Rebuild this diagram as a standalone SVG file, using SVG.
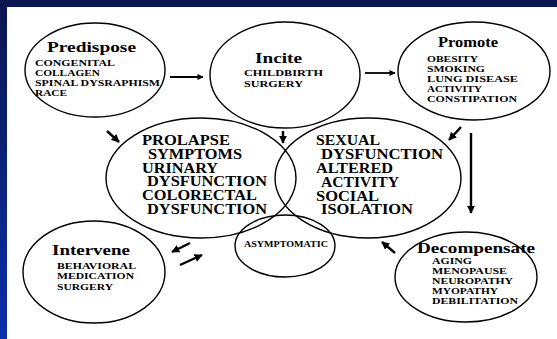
<svg xmlns="http://www.w3.org/2000/svg" width="557" height="339" viewBox="0 0 557 339">
<defs>
<linearGradient id="side" x1="0" y1="0" x2="0" y2="1">
<stop offset="0" stop-color="#0b1650"/>
<stop offset="1" stop-color="#0a2fa8"/>
</linearGradient>
<marker id="ah" viewBox="0 0 10 10" refX="9" refY="5" markerWidth="3.4" markerHeight="3.4" orient="auto" markerUnits="strokeWidth">
<path d="M0,0 L10,5 L0,10 z" fill="#000"/>
</marker>
<style>
.el{fill:none;stroke:#000;stroke-width:1.4}
.t{font-family:"Liberation Serif","Times New Roman",serif;font-weight:bold;fill:#000}
.h{font-size:15.5px}
.s{font-size:9px}
.b{font-size:14px}
.a{stroke:#000;stroke-width:2.4;fill:none;marker-end:url(#ah)}
</style>
</defs>
<rect x="0" y="0" width="557" height="339" fill="#fff"/>
<rect x="0" y="0" width="557" height="7" fill="#0b1650"/>
<rect x="0" y="0" width="7" height="339" fill="url(#side)"/>

<g id="predispose">
<ellipse class="el" cx="95" cy="70" rx="70" ry="47"/>
<text class="t h" x="47" y="52" textLength="89" lengthAdjust="spacingAndGlyphs">Predispose</text>
<text class="t s" x="35" y="65.5" textLength="80" lengthAdjust="spacingAndGlyphs">CONGENITAL</text>
<text class="t s" x="35" y="75.5" textLength="65" lengthAdjust="spacingAndGlyphs">COLLAGEN</text>
<text class="t s" x="35" y="85.5" textLength="125" lengthAdjust="spacingAndGlyphs">SPINAL DYSRAPHISM</text>
<text class="t s" x="35" y="95.5" textLength="32" lengthAdjust="spacingAndGlyphs">RACE</text>
</g>

<g id="incite">
<ellipse class="el" cx="285" cy="75" rx="75" ry="53"/>
<text class="t h" x="255" y="63" textLength="47" lengthAdjust="spacingAndGlyphs">Incite</text>
<text class="t s" x="244" y="76" textLength="79" lengthAdjust="spacingAndGlyphs">CHILDBIRTH</text>
<text class="t s" x="244" y="86.5" textLength="59" lengthAdjust="spacingAndGlyphs">SURGERY</text>
</g>

<g id="promote">
<ellipse class="el" cx="474" cy="71" rx="76" ry="49"/>
<text class="t h" x="438" y="46.5" textLength="60" lengthAdjust="spacingAndGlyphs">Promote</text>
<text class="t s" x="427" y="61.5" textLength="51" lengthAdjust="spacingAndGlyphs">OBESITY</text>
<text class="t s" x="427" y="72" textLength="58" lengthAdjust="spacingAndGlyphs">SMOKING</text>
<text class="t s" x="427" y="82" textLength="91" lengthAdjust="spacingAndGlyphs">LUNG DISEASE</text>
<text class="t s" x="427" y="92" textLength="55" lengthAdjust="spacingAndGlyphs">ACTIVITY</text>
<text class="t s" x="427" y="102" textLength="90" lengthAdjust="spacingAndGlyphs">CONSTIPATION</text>
</g>

<g id="prolapse">
<ellipse class="el" cx="201" cy="178" rx="95" ry="60"/>
<text class="t b" x="142" y="145" textLength="88" lengthAdjust="spacingAndGlyphs">PROLAPSE</text>
<text class="t b" x="148" y="158.5" textLength="94" lengthAdjust="spacingAndGlyphs">SYMPTOMS</text>
<text class="t b" x="142" y="172.5" textLength="76" lengthAdjust="spacingAndGlyphs">URINARY</text>
<text class="t b" x="147" y="186" textLength="120" lengthAdjust="spacingAndGlyphs">DYSFUNCTION</text>
<text class="t b" x="142" y="200" textLength="115" lengthAdjust="spacingAndGlyphs">COLORECTAL</text>
<text class="t b" x="147" y="213.5" textLength="120" lengthAdjust="spacingAndGlyphs">DYSFUNCTION</text>
</g>

<g id="sexual">
<ellipse class="el" cx="368" cy="178" rx="93" ry="60"/>
<text class="t b" x="316" y="145" textLength="64" lengthAdjust="spacingAndGlyphs">SEXUAL</text>
<text class="t b" x="321" y="158.5" textLength="122" lengthAdjust="spacingAndGlyphs">DYSFUNCTION</text>
<text class="t b" x="316" y="173" textLength="77" lengthAdjust="spacingAndGlyphs">ALTERED</text>
<text class="t b" x="321" y="186.5" textLength="78" lengthAdjust="spacingAndGlyphs">ACTIVITY</text>
<text class="t b" x="316" y="200.5" textLength="63" lengthAdjust="spacingAndGlyphs">SOCIAL</text>
<text class="t b" x="321" y="214" textLength="92" lengthAdjust="spacingAndGlyphs">ISOLATION</text>
</g>

<g id="asymptomatic">
<ellipse class="el" cx="285" cy="246" rx="50" ry="31"/>
<text class="t" style="font-size:8.5px" x="244" y="246.5" textLength="84" lengthAdjust="spacingAndGlyphs">ASYMPTOMATIC</text>
</g>

<g id="intervene">
<ellipse class="el" cx="94" cy="272" rx="71" ry="51"/>
<text class="t h" x="52" y="255" textLength="78" lengthAdjust="spacingAndGlyphs">Intervene</text>
<text class="t s" x="57" y="269" textLength="79" lengthAdjust="spacingAndGlyphs">BEHAVIORAL</text>
<text class="t s" x="57" y="279" textLength="77" lengthAdjust="spacingAndGlyphs">MEDICATION</text>
<text class="t s" x="57" y="290" textLength="56" lengthAdjust="spacingAndGlyphs">SURGERY</text>
</g>

<g id="decompensate">
<ellipse class="el" cx="466" cy="277" rx="71" ry="45"/>
<text class="t h" x="417" y="253" textLength="118" lengthAdjust="spacingAndGlyphs">Decompensate</text>
<text class="t s" x="432" y="264" textLength="40" lengthAdjust="spacingAndGlyphs">AGING</text>
<text class="t s" x="432" y="274" textLength="75" lengthAdjust="spacingAndGlyphs">MENOPAUSE</text>
<text class="t s" x="432" y="284" textLength="81" lengthAdjust="spacingAndGlyphs">NEUROPATHY</text>
<text class="t s" x="432" y="294" textLength="66" lengthAdjust="spacingAndGlyphs">MYOPATHY</text>
<text class="t s" x="432" y="304" textLength="86" lengthAdjust="spacingAndGlyphs">DEBILITATION</text>
</g>

<g id="connectors">
<line class="a" style="stroke-width:1.8" x1="170" y1="77" x2="203" y2="77"/>
<line class="a" style="stroke-width:1.8" x1="365" y1="73" x2="395" y2="73"/>
<line class="a" x1="107" y1="131" x2="119" y2="142"/>
<line class="a" x1="283" y1="131" x2="283" y2="143"/>
<line class="a" x1="461" y1="127" x2="449" y2="140"/>
<line class="a" x1="471" y1="133" x2="471" y2="213"/>
<line class="a" x1="395" y1="253" x2="382" y2="242"/>
<line class="a" x1="190" y1="243" x2="172" y2="252"/>
<line class="a" x1="180" y1="265" x2="202" y2="255"/>
</g>
</svg>
